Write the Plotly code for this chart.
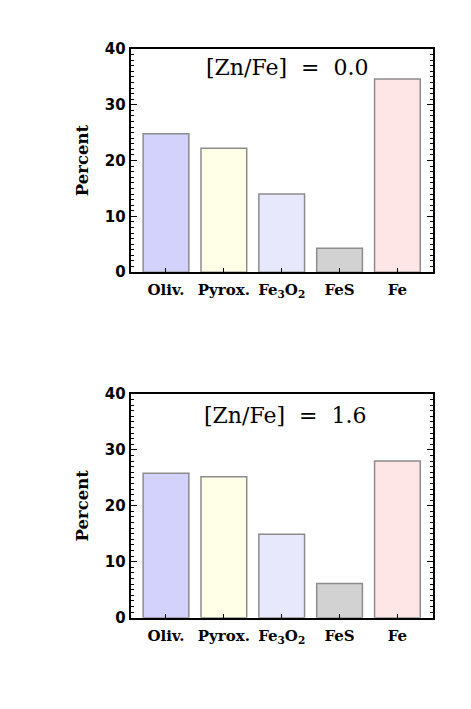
import plotly.graph_objects as go

categories = ["Oliv.", "Pyrox.", "Fe<sub>3</sub>O<sub>2</sub>", "FeS", "Fe"]
values_zn00 = [24.8, 22.2, 14.0, 4.3, 34.6]
values_zn16 = [25.8, 25.2, 14.9, 6.1, 28.0]
bar_colors = ["#d2d2fc", "#ffffe8", "#e8e8fc", "#d2d2d2", "#ffe6e6"]
panel_titles = ["[Zn/Fe]  =  0.0", "[Zn/Fe]  =  1.6"]
y_ticks = [0, 10, 20, 30, 40]

W, H = 471, 709
x_dom = [130.7 / W, 432.7 / W]
panels = [
    dict(vals=values_zn00, top=41, bot=270, title=panel_titles[0], tcx=287, tcy=60),
    dict(vals=values_zn16, top=395, bot=624.5, title=panel_titles[1], tcx=285, tcy=417),
]

fig = go.Figure()
serif = "DejaVu Serif"
sans = "DejaVu Sans"

for i, p in enumerate(panels):
    xa = "x" if i == 0 else "x2"
    ya = "y" if i == 0 else "y2"
    fig.add_trace(go.Bar(
        x=list(range(len(categories))), y=p["vals"], width=0.79,
        marker=dict(color=bar_colors, line=dict(color="#8c8c8c", width=1.5)),
        xaxis=xa, yaxis=ya, showlegend=False, hoverinfo="y",
    ))
    xkey = "xaxis" if i == 0 else "xaxis2"
    ykey = "yaxis" if i == 0 else "yaxis2"
    fig.layout[xkey] = dict(
        domain=x_dom, range=[-0.61, 4.61], anchor=ya,
        tickmode="array", tickvals=list(range(len(categories))), ticktext=categories,
        ticks="inside", ticklen=4, tickwidth=1.2, tickcolor="black",
        showline=True, linecolor="black", linewidth=2, mirror=True,
        showgrid=False, zeroline=False, fixedrange=True, ticklabelstandoff=3,
        tickfont=dict(family=serif, size=15, color="black", weight="bold"),
    )
    fig.layout[ykey] = dict(
        domain=[1 - p["bot"] / H, 1 - p["top"] / H], range=[0, 40], anchor=xa,
        tickmode="array", tickvals=y_ticks,
        ticks="inside", ticklen=6, tickwidth=1.2, tickcolor="black",
        minor=dict(dtick=1, tick0=0, ticks="inside", ticklen=3, tickwidth=1, tickcolor="black"),
        showline=True, linecolor="black", linewidth=2, mirror="ticks",
        showgrid=False, zeroline=False, fixedrange=True,
        tickfont=dict(family=sans, size=15, color="black", weight="bold"),
        title=dict(text="Percent", font=dict(family=serif, size=16.5, color="black", weight="bold"),
                   standoff=12),
    )
    fig.add_annotation(
        x=p["tcx"] / W, y=1 - p["tcy"] / H, xref="paper", yref="paper",
        text=p["title"], showarrow=False, xanchor="center", yanchor="middle",
        font=dict(family=serif, size=22, color="black"),
    )

fig.update_layout(
    width=W, height=H, margin=dict(l=0, r=0, t=0, b=0),
    paper_bgcolor="white", plot_bgcolor="white", bargap=0.2,
)
fig.write_html("out.html")
